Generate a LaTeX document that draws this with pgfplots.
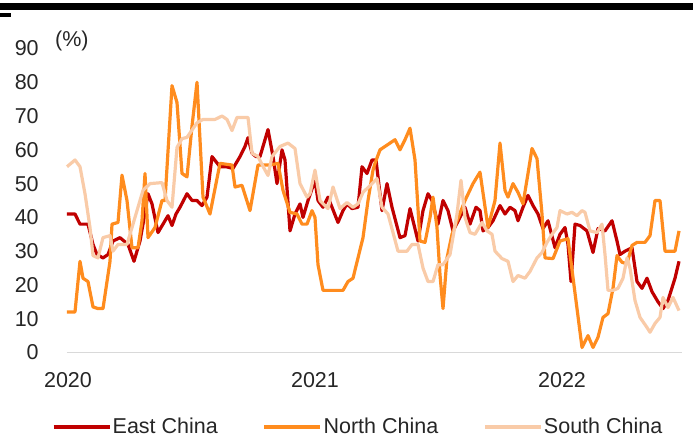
\documentclass[border=0pt]{standalone}
\usepackage{fontspec}
\setmainfont{Liberation Sans}
\usepackage{pgfplots}
\pgfplotsset{compat=1.18}
\definecolor{eastc}{HTML}{C00000}
\definecolor{northc}{HTML}{FF8C1E}
\definecolor{southc}{HTML}{F9CBA8}
\definecolor{axisgray}{HTML}{D9D9D9}
\begin{document}
\fontsize{21.5bp}{25bp}\selectfont
\begin{tikzpicture}
\useasboundingbox (-67bp,-84.5bp) rectangle (626bp,352.5bp);
\fill[black] (-67bp,342.5bp) rectangle (626bp,349.5bp);
\fill[black] (-67bp,335.5bp) rectangle (-56bp,339.5bp);
\begin{axis}[
  at={(0,0)}, anchor=south west,
  scale only axis, width=615bp, height=304bp,
  xmin=67, xmax=682, ymin=0, ymax=90,
  axis x line=bottom, axis y line=left,
  y axis line style={draw=none},
  x axis line style={axisgray, line width=1.5bp, -},
  tick style={draw=none},
  ytick={0,10,...,90},
  xtick={68,315,562}, xticklabels={2020,2021,2022},
  /pgf/number format/assume math mode=true,
  ticklabel style={font=\fontsize{21.5bp}{25bp}\selectfont, text=black!85},
  yticklabel style={anchor=east, inner sep=0pt, xshift=-26bp},
  xticklabel style={anchor=north, inner sep=0pt, yshift=-17.5bp},
  clip=false,
  every axis plot/.append style={line width=3.2bp, line join=round, no markers},
  legend columns=3,
  legend style={at={(-0.0244,-0.245)}, anchor=west, draw=none, fill=none,
    inner sep=0pt, outer sep=0pt, font=\fontsize{21.5bp}{25bp}\selectfont, text=black!85,
    nodes={inner sep=0pt},
    /tikz/every odd column/.append style={column sep=1.5bp},
    /tikz/every even column/.append style={column sep=45bp}},
  legend cell align=left,
  legend image code/.code={\draw[#1] (0bp,0bp) -- (56bp,0bp);},
]
\addplot[eastc] coordinates {
(67,41)(75,41)(80,38)(88,38)(93,32)(97,29)(103,28)(108,29)(113,33)(120,34)(128,32)(134,27)(140,33)(143,38)(148,47)(152,44)(158,35.5)(163,38)(168,40.5)(172,37.6)(176,41)(180,43)(187,47)(192,45)(197,45)(202,43.5)(207,46)(212,58)(220,55)(226,55)(233,54.5)(240,58)(245,61)(248,63.6)(252,59)(256,58)(260,58)(264,62)(268,66)(273,58)(277,50)(282,60)(285,57)(290,36)(295,41)(300,44)(303,40)(308,45)(315,51)(318,45)(323,43)(328,46)(332,43)(338,38.5)(343,42)(347,44)(352,42.6)(358,43)(362,55)(367,53)(372,57)(376,57)(382,42)(387,50)(392,43)(400,34)(405,34.6)(410,42.6)(418,33)(423,42)(428,47)(432,45)(438,38)(443,45)(448,42)(453,36)(460,40)(465,43)(470,38)(476,43)(480,42)(483,36)(488,37)(493,39)(500,43.5)(505,41)(510,43)(515,42)(518,39)(523,43)(528,46.5)(533,43.5)(538,41)(543,36.7)(548,39)(555,31)(560,35)(565,37)(568,32)(571,21)(575,38)(580,37.6)(587,36)(593,29.6)(598,36.7)(605,36)(612,39)(617,33)(620,29)(625,30)(632,31)(637,21)(642,19)(647,22)(652,18)(658,15)(663,13)(668,15.4)(675,22)(679,27)
};
\addlegendentry{East China}
\addplot[northc] coordinates {
(67,12)(75,12)(80,27)(83,22)(88,21)(93,13.5)(98,13)(103,13)(110,27)(112,38)(118,38.5)(122,52.5)(127,45)(132,31)(138,31)(142,39)(145,53)(148,34)(155,37)(162,45)(165,45)(172,79)(177,74)(182,53)(187,52)(192,67)(197,80)(203,46)(210,41)(220,56)(232,55.5)(235,49)(242,49.5)(250,42)(258,55.5)(270,55.5)(278,56)(283,48)(290,41.5)(297,41)(302,38)(307,38)(312,42)(315,40)(318,26)(323,18.4)(343,18.4)(348,21)(353,22)(358,28)(363,34)(368,45)(373,54)(375,56)(380,60)(395,63)(400,60)(405,63)(410,66.4)(415,57)(420,33)(425,32.6)(430,40)(433,46)(437,37)(440,23)(443,13)(447,28)(452,35)(457,39)(465,45)(473,50)(480,53.4)(488,37)(495,45)(500,62)(505,48)(508,46)(513,50)(518,47.4)(523,44)(528,53)(532,60.4)(537,57.4)(542,41)(545,28)(553,27.8)(560,33)(568,33.7)(582,1.5)(588,5)(593,1.5)(598,4.5)(603,10.4)(608,11.5)(613,19)(617,28.7)(622,26.7)(627,26.3)(632,31.7)(637,32.6)(645,32.6)(650,34.6)(655,45)(660,45)(665,30)(675,30)(679,36)
};
\addlegendentry{North China}
\addplot[southc] coordinates {
(67,55)(75,57)(80,55)(85,47)(90,37)(93,28.7)(98,28)(103,34)(110,34.6)(113,30)(118,32)(127,32)(135,40)(143,48)(150,50)(162,50.3)(167,45)(172,43)(177,60.7)(182,63.3)(187,63.7)(197,68)(203,69)(215,69)(222,70)(227,69)(232,65.7)(237,69.6)(248,69.6)(252,59)(258,58)(265,54)(268,52.4)(272,58)(280,61)(288,62)(295,60.4)(300,50)(307,46)(310,47)(315,54)(320,45)(328,42.6)(333,49)(340,42.6)(347,44.4)(353,43)(358,44)(363,47.4)(370,49.4)(377,51.5)(382,43)(388,41)(398,30)(407,30)(412,32)(418,32)(423,25)(428,21)(433,21)(438,26)(443,26)(450,29)(457,41)(461,51)(465,40)(470,35.5)(475,35)(482,38.5)(487,36)(492,35)(495,30)(502,27.8)(508,27)(513,21)(518,22.8)(525,22)(530,24)(537,28)(542,29.6)(547,32.6)(552,35)(557,37)(560,42)(567,41)(572,41.5)(577,40.5)(582,42)(585,41.5)(590,36)(597,35.5)(602,38)(605,29)(608,18.4)(613,18.4)(618,19)(623,22)(627,28)(630,25)(635,15.4)(640,10.4)(647,7.4)(650,6)(655,8.6)(660,10.4)(663,16.3)(668,13.3)(673,16.3)(679,12.4)
};
\addlegendentry{South China}
\end{axis}
\node[anchor=west, inner sep=0pt, text=black!85] at (-12bp,311.5bp) {(\%)};
\end{tikzpicture}
\end{document}
